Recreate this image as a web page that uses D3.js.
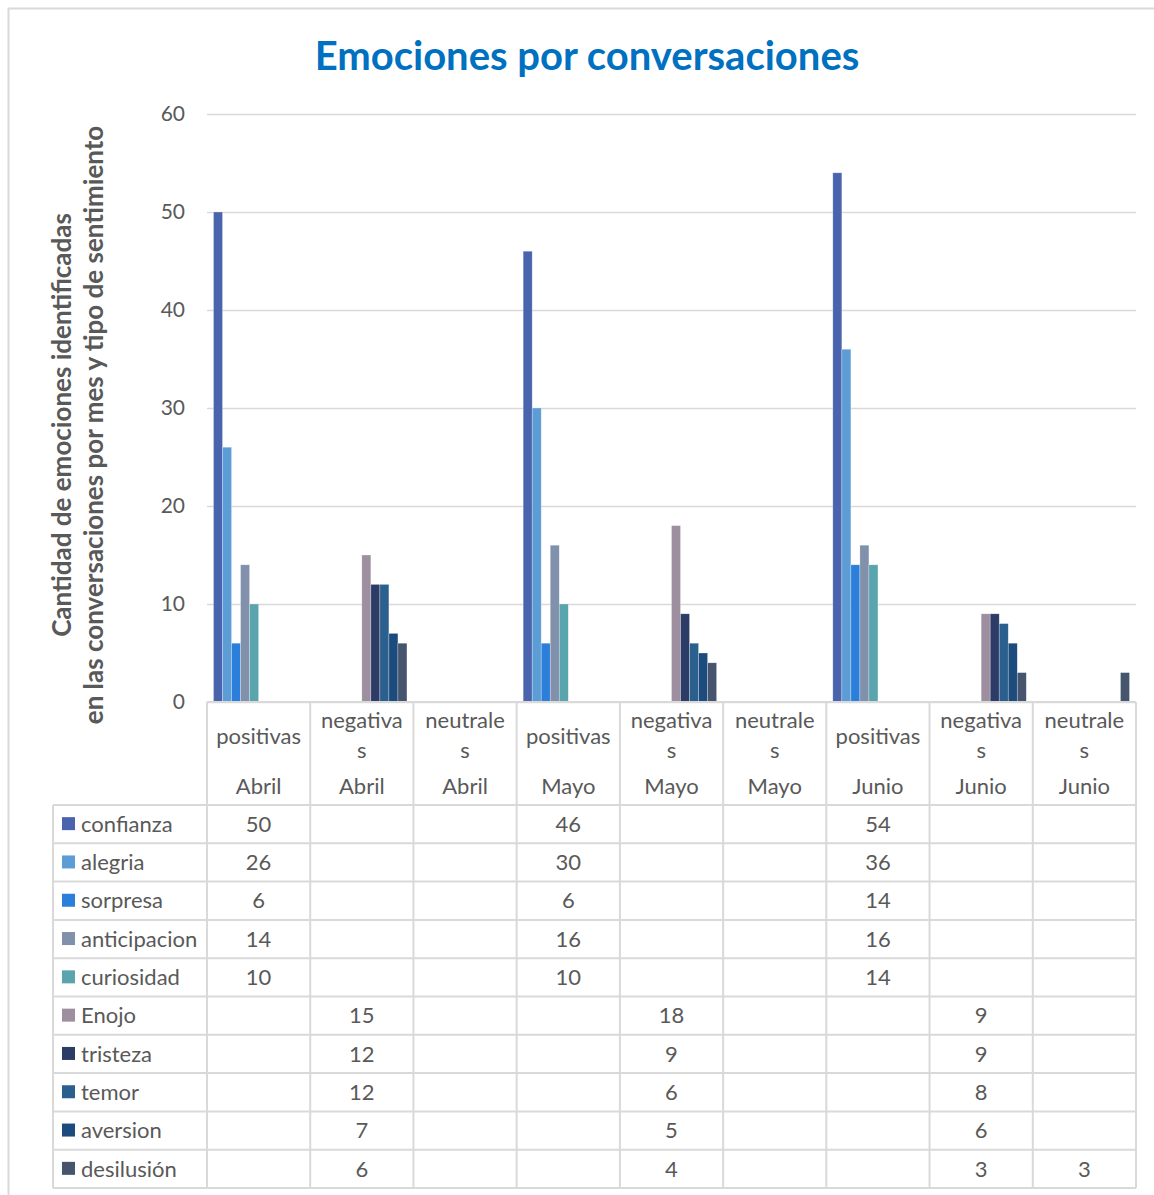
<!DOCTYPE html>
<html>
<head>
<meta charset="utf-8">
<script src="https://cdn.jsdelivr.net/npm/d3@7/dist/d3.min.js"></script>
<style>
  html, body { margin: 0; padding: 0; background: #fff; }
  svg { display: block; }
  text { font-family: Lato, "Noto Sans", sans-serif; }
</style>
</head>
<body>
<svg id="chart" width="1154" height="1195"></svg>
<script>
// Category axis: sentiment type under month
const months = ["Abril", "Abril", "Abril", "Mayo", "Mayo", "Mayo", "Junio", "Junio", "Junio"];
const sentiments = ["positivas", "negativas", "neutrales", "positivas", "negativas", "neutrales", "positivas", "negativas", "neutrales"];
// Sentiment labels as they wrap inside the narrow header cells
const sentimentLines = {
  positivas: ["positivas"],
  negativas: ["negativa", "s"],
  neutrales: ["neutrale", "s"]
};

// Emotion series (null = blank cell)
const seriesNames = ["confianza", "alegria", "sorpresa", "anticipacion", "curiosidad",
                     "Enojo", "tristeza", "temor", "aversion", "desilusión"];
const confianza    = [50, null, null, 46, null, null, 54, null, null];
const alegria      = [26, null, null, 30, null, null, 36, null, null];
const sorpresa     = [6, null, null, 6, null, null, 14, null, null];
const anticipacion = [14, null, null, 16, null, null, 16, null, null];
const curiosidad   = [10, null, null, 10, null, null, 14, null, null];
const enojo        = [null, 15, null, null, 18, null, null, 9, null];
const tristeza     = [null, 12, null, null, 9, null, null, 9, null];
const temor        = [null, 12, null, null, 6, null, null, 8, null];
const aversion     = [null, 7, null, null, 5, null, null, 6, null];
const desilusion   = [null, 6, null, null, 4, null, null, 3, 3];

const yTicks = [0, 10, 20, 30, 40, 50, 60];

const seriesValues = [confianza, alegria, sorpresa, anticipacion, curiosidad,
                      enojo, tristeza, temor, aversion, desilusion];
const seriesColors = ["#4964ad", "#5d9dd6", "#2b7fda", "#8190ab", "#59a4ad",
                      "#9e8fa0", "#2d3b67", "#2b5f8e", "#1c4b7e", "#46556d"];

const series = seriesNames.map((name, i) => ({ name, values: seriesValues[i], color: seriesColors[i] }));
const catIdx = d3.range(months.length);

const svg = d3.select("#chart");
const gridColor = "#d9d9d9";
const textColor = "#595959";
const labelSize = 22;

// Chart frame
svg.append("rect")
  .attr("x", 8.5).attr("y", 8.5).attr("width", 1170).attr("height", 1210)
  .attr("fill", "none").attr("stroke", gridColor).attr("stroke-width", 2);

// Title
svg.append("text")
  .attr("x", 587).attr("y", 70)
  .attr("text-anchor", "middle")
  .attr("fill", "#0070c0")
  .attr("font-weight", "bold")
  .attr("font-size", 40)
  .text("Emociones por conversaciones");

// Plot geometry
const plotLeft = 207, plotRight = 1136, plotTop = 114, plotBase = 702;
const tableLeft = 53;
const headerBottom = 805;
const tableBottom = 1188;
const rowH = (tableBottom - headerBottom) / series.length;

const x0 = d3.scaleBand().domain(catIdx).range([plotLeft, plotRight]).padding(0);
const x1 = d3.scaleBand().domain(d3.range(series.length))
  .range([0, x0.bandwidth()]).paddingInner(0).paddingOuter(0.72);
const y = d3.scaleLinear().domain([0, 60]).range([plotBase, plotTop]);

// Gridlines and value axis
const yAxis = d3.axisLeft(y).tickValues(yTicks).tickSize(-(plotRight - plotLeft)).tickPadding(22);
const gy = svg.append("g").attr("transform", `translate(${plotLeft},0)`).call(yAxis);
gy.select(".domain").remove();
gy.selectAll(".tick line").attr("stroke", gridColor).attr("stroke-width", 1.5);
gy.selectAll(".tick text")
  .attr("fill", textColor).attr("font-size", 21)
  .attr("font-family", "Lato, 'Noto Sans', sans-serif");

// Axis title (two lines, rotated)
const titleSize = 26;
const yTitle = svg.append("text")
  .attr("transform", "translate(78,425) rotate(-90)")
  .attr("text-anchor", "middle")
  .attr("fill", textColor)
  .attr("font-weight", "bold")
  .attr("font-size", titleSize);
yTitle.append("tspan").attr("x", 0).attr("dy", -16 + 0.35 * titleSize).text("Cantidad de emociones identificadas");
yTitle.append("tspan").attr("x", 0).attr("dy", 32).text("en las conversaciones por mes y tipo de sentimiento");

// Bars
const groups = svg.append("g").selectAll("g")
  .data(series).join("g")
  .attr("fill", d => d.color);
groups.each(function (s, si) {
  d3.select(this).selectAll("rect")
    .data(catIdx.filter(c => s.values[c] != null).map(c => ({ c, v: s.values[c] })))
    .join("rect")
    .attr("x", d => x0(d.c) + x1(si))
    .attr("width", x1.bandwidth())
    .attr("y", d => y(d.v))
    .attr("height", d => y(0) - y(d.v))
    .attr("stroke", "#ffffff").attr("stroke-opacity", 0.45).attr("stroke-width", 0.6);
});

// Data table grid
const grid = svg.append("g").attr("stroke", gridColor).attr("stroke-width", 2).attr("fill", "none");
// category axis line
grid.append("line").attr("x1", plotLeft).attr("x2", plotRight).attr("y1", plotBase).attr("y2", plotBase);
// row lines
d3.range(series.length + 1).forEach(i => {
  const yy = headerBottom + i * rowH;
  grid.append("line").attr("x1", tableLeft).attr("x2", plotRight).attr("y1", yy).attr("y2", yy);
});
// legend column left border
grid.append("line").attr("x1", tableLeft).attr("x2", tableLeft).attr("y1", headerBottom).attr("y2", tableBottom);
// column separators
d3.range(months.length + 1).forEach(i => {
  const xx = plotLeft + i * x0.step();
  grid.append("line").attr("x1", xx).attr("x2", xx).attr("y1", plotBase).attr("y2", tableBottom);
});

// Category header labels
const header = svg.append("g").attr("fill", textColor).attr("font-size", labelSize).attr("text-anchor", "middle");
catIdx.forEach(c => {
  const cx = x0(c) + x0.bandwidth() / 2;
  const lines = sentimentLines[sentiments[c]];
  const startY = lines.length === 1 ? 736 : 720;
  lines.forEach((ln, li) => {
    header.append("text").attr("x", cx).attr("y", startY + li * 30).attr("dy", "0.35em").text(ln);
  });
  header.append("text").attr("x", cx).attr("y", 786).attr("dy", "0.35em").text(months[c]);
});

// Table rows: legend key, name and values
const rows = svg.append("g").selectAll("g")
  .data(series).join("g")
  .attr("transform", (d, i) => `translate(0,${headerBottom + i * rowH + rowH / 2})`);
rows.append("rect")
  .attr("x", 62).attr("y", -7).attr("width", 13).attr("height", 13)
  .attr("fill", d => d.color);
rows.append("text")
  .attr("x", 81).attr("dy", "0.35em")
  .attr("fill", textColor).attr("font-size", labelSize)
  .text(d => d.name);
rows.each(function (s) {
  d3.select(this).selectAll("text.val")
    .data(catIdx.filter(c => s.values[c] != null))
    .join("text")
    .attr("class", "val")
    .attr("x", c => x0(c) + x0.bandwidth() / 2)
    .attr("dy", "0.35em")
    .attr("text-anchor", "middle")
    .attr("fill", textColor).attr("font-size", labelSize)
    .text(c => s.values[c]);
});
</script>
</body>
</html>
